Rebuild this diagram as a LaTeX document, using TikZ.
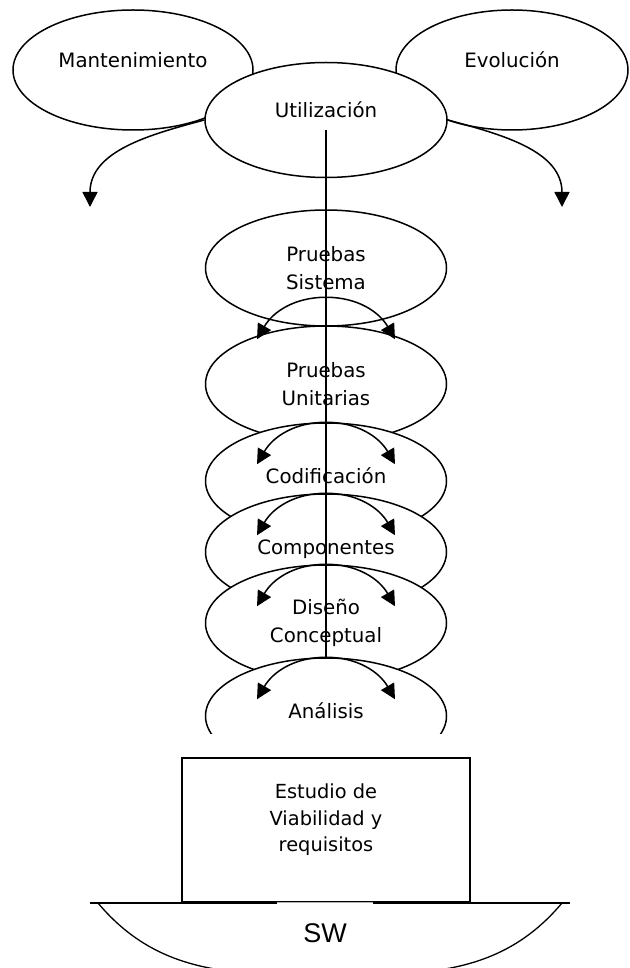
\documentclass[tikz,border=0pt]{standalone}
\usepackage{fontspec}
\setmainfont{DejaVu Sans}
\newfontfamily\swfont{Liberation Sans}
\usepackage{tikz}
\usetikzlibrary{shapes.geometric, arrows.meta, positioning}
\tikzset{
  stage/.style={ellipse, draw=black, fill=white,
    minimum width=120.5pt, minimum height=58pt, inner sep=1pt,
    align=center, font=\fontsize{9.9}{14}\selectfont, line width=0.75pt},
  onestage/.style={stage, text depth=5pt},
  topstage/.style={stage, minimum height=60pt, text depth=10pt},
  studybox/.style={rectangle, draw=black, fill=white,
    minimum width=144pt, minimum height=72pt, align=center, text depth=12pt,
    font=\fontsize{9.7}{13.3}\selectfont, line width=0.9pt},
  swbox/.style={rectangle, fill=white, minimum width=48pt,
    minimum height=30pt, font=\swfont\fontsize{13.5}{16}\selectfont},
  arrow/.style={-{Triangle[length=7.5pt,width=7.5pt]}, line width=0.75pt},
  spine/.style={line width=0.75pt},
  base/.style={line width=0.65pt}
}

\begin{document}
\begin{tikzpicture}[x=0.5pt, y=-0.5pt]
  \useasboundingbox (0,0) rectangle (629,968);

  % Use phase
  \node[topstage, minimum width=120pt] (mant) at (133,70) {Mantenimiento};
  \node[topstage, minimum width=116pt] (evol) at (512,70) {Evolución};
  \node[topstage, minimum width=121pt, minimum height=57.5pt] (util) at (326,120) {Utilización};
  \coordinate (mantend) at (90,207);
  \coordinate (evolend) at (562,207);
  \draw[arrow] (util.west) to[out=195, in=90] (mantend);
  \draw[arrow] (util.east) to[out=-15, in=90] (evolend);

  % Stages, each one covering the one above
  \node[stage] (ps) at (326,268) {Pruebas\\Sistema};
  \node[stage] (pu) at (326,384) {Pruebas\\Unitarias};
  \node[onestage] (co) at (326,481) {Codificación};
  \node[onestage] (cm) at (326,552) {Componentes};
  \node[stage] (dc) at (326,623) {Diseño\\Conceptual};
  \begin{scope}
    \clip (0,0) rectangle (629,733);
    \node[onestage] (an) at (326,716) {Análisis};
  \end{scope}

  % Arrows from the top of each stage
  \foreach \s/\up [count=\i] in {pu/14pt, co/0pt, cm/0pt, dc/0pt, an/0pt} {
    \coordinate (top\i) at ([yshift=\up]\s.north);
    \coordinate (tipl\i) at ([xshift=-34.5pt, yshift=-21pt]top\i);
    \coordinate (tipr\i) at ([xshift=34.5pt, yshift=-21pt]top\i);
    \draw[arrow] (top\i) to[out=180, in=60] (tipl\i);
    \draw[arrow] (top\i) to[out=0, in=120] (tipr\i);
  }

  % Spine
  \draw[spine] ([yshift=-5pt]util.center) -- (an.north);

  % Study and base
  \node[studybox] (study) at (326,830) {Estudio de\\Viabilidad y\\requisitos};
  \coordinate (basel) at (90,903);
  \coordinate (baser) at (570,903);
  \draw[base] (basel) -- (baser);
  \begin{scope}
    \clip (0,0) rectangle (629,968);
    \coordinate (arcl) at (98,903);
    \coordinate (arcm) at (330,975);
    \coordinate (arcr) at (562,903);
    \draw[base] (arcl) to[out=-50, in=180] (arcm) to[out=0, in=-130] (arcr);
  \end{scope}
  \node[swbox] (sw) at (325,933) {SW};
  \draw[gray!60, line width=0.35pt] (sw.north west) -- (sw.north east);
\end{tikzpicture}
\end{document}
